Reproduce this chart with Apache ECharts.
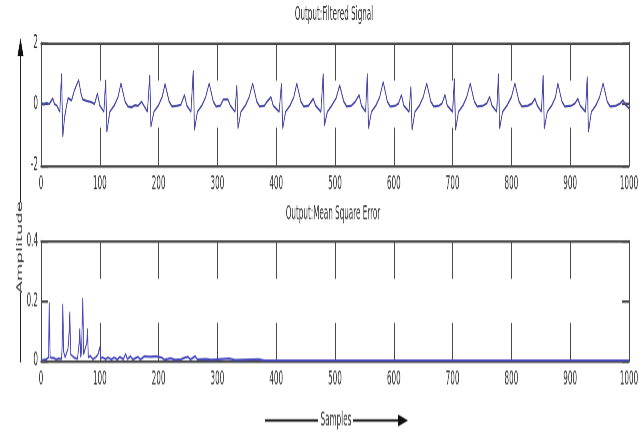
<!DOCTYPE html>
<html>
<head>
<meta charset="utf-8">
<script src="https://cdn.jsdelivr.net/npm/echarts@6/dist/echarts.min.js"></script>
<style>
    html {overflow: hidden; background: #fff;}
    body {margin: 0; padding: 0; background: #fff; height: 433px;}
    /* the reference picture is stretched vertically, so the chart is drawn at 1/2.5 height and scaled back */
    #main {width: 644px; height: 173.2px; transform: scaleY(2.5); transform-origin: 0 0;}
</style>
</head>
<body>
<div id="main"></div>
<script>
// tick labels
const sampleTicks = [0, 100, 200, 300, 400, 500, 600, 700, 800, 900, 1000];
const signalTicks = [-2, 0, 2];
const errorTicks = [0, 0.2, 0.4];

// Output: filtered signal, [sample, amplitude] vertices
const filteredSignal = [
    [0, 0.02], [5, -0.02], [9, 0.04], [12, 0.17], [14, 0.0], [17, 0.05], [20, 0.19], [23, 0.0], [27, -0.05], [32, -0.25],
    [35, 1.0], [37, -1.07], [40, -0.45], [43, -0.1], [46, 0.2], [49, 0.23], [52, 0.12], [57, 0.46], [60, 0.4], [64, 0.79],
    [68, 0.35], [71, 0.15], [74, 0.08], [78, 0.1], [81, -0.02], [86, 0.06], [91, 0.0], [96, 0.35], [100, -0.05], [103, -0.1], [107, -0.25],
    [110, 0.79], [112, -0.91], [117, -0.25], [125, -0.03], [131, 0.23], [136, 0.68], [143, 0.08], [148, -0.08], [154, -0.1], [160, -0.04],
    [165, -0.06], [171, 0.08], [174, -0.05], [181, -0.25],
    [185, 0.95], [187, -0.74], [192, -0.25], [200, -0.03], [206, 0.23], [211, 0.66], [218, 0.08], [223, -0.08], [232, -0.05], [238, -0.02],
    [244, 0.3], [248, -0.05], [255, -0.25],
    [259, 1.11], [261, -0.85], [266, -0.25], [274, -0.03], [280, 0.23], [286, 0.68], [293, 0.08], [298, -0.08], [305, -0.05], [310, 0.15],
    [313, 0.0], [318, 0.15], [322, -0.05], [330, -0.25],
    [333, 0.62], [335, -0.8], [340, -0.25], [348, -0.03], [354, 0.23], [360, 0.68], [367, 0.08], [372, -0.08], [380, -0.05], [384, 0.07],
    [387, 0.0], [391, 0.23], [395, -0.05], [405, -0.25],
    [409, 0.68], [411, -0.8], [416, -0.25], [424, -0.03], [430, 0.23], [435, 0.68], [442, 0.08], [447, -0.08], [455, -0.05], [463, 0.18],
    [467, -0.05], [476, -0.25],
    [480, 1.0], [482, -0.7], [487, -0.25], [495, -0.03], [502, 0.2], [508, 0.62], [515, 0.08], [520, -0.08], [528, -0.05], [534, 0.07],
    [537, 0.0], [541, 0.3], [545, -0.05], [552, -0.25],
    [555, 1.0], [557, -0.8], [562, -0.25], [570, -0.03], [576, 0.23], [582, 0.73], [589, 0.08], [594, -0.08], [603, -0.05], [608, 0.02],
    [613, 0.3], [617, -0.05], [626, -0.25],
    [629, 0.57], [631, -0.85], [636, -0.25], [644, -0.03], [650, 0.23], [656, 0.68], [663, 0.08], [668, -0.08], [677, -0.05], [682, 0.02],
    [687, 0.3], [691, -0.05], [700, -0.25],
    [703, 0.84], [705, -0.85], [710, -0.25], [718, -0.03], [724, 0.23], [730, 0.68], [737, 0.08], [742, -0.08], [752, -0.05], [758, 0.02],
    [763, 0.24], [767, -0.05], [775, -0.25],
    [778, 1.0], [780, -0.8], [785, -0.25], [793, -0.03], [800, 0.23], [806, 0.68], [813, 0.08], [818, -0.08], [828, -0.05], [835, 0.02],
    [840, 0.18], [844, -0.05], [851, -0.25],
    [854, 0.95], [856, -0.8], [861, -0.25], [869, -0.03], [875, 0.23], [879, 0.68], [886, 0.08], [891, -0.08], [902, -0.05], [908, 0.02],
    [913, 0.18], [917, -0.05], [926, -0.25],
    [929, 0.9], [931, -0.91], [936, -0.25], [944, -0.03], [950, 0.23], [956, 0.68], [963, 0.08], [968, -0.08], [978, -0.05], [985, 0.02],
    [990, 0.13], [994, -0.02], [1000, -0.14]
];

// Output: mean square error, [sample, mse]
const meanSquareError = [
    [0, 0], [9, 0.004], [13, 0.01], [14, 0.196], [15.5, 0.01], [18, 0.003], [22, 0.008], [26, 0.003], [30, 0.006], [35, 0.005],
    [36, 0.05], [37, 0.19], [38.5, 0.03], [41, 0.01], [44, 0.006], [46, 0.04], [48, 0.1], [49, 0.163], [50.5, 0.02], [53, 0.006],
    [56, 0.01], [59, 0.02], [62, 0.005], [65, 0.06], [66, 0.107], [67.5, 0.01], [69, 0.03], [71, 0.21], [72.5, 0.02], [75, 0.01],
    [78, 0.06], [79, 0.107], [80.5, 0.01], [84, 0.015], [88, 0.004], [93, 0.01], [97, 0.02], [100, 0.045], [101.5, 0.008],
    [105, 0.01], [108, 0.022], [110, 0.004], [114, 0.01], [117, 0.018], [120, 0.003], [124, 0.01], [127, 0.022], [130, 0.003],
    [134, 0.012], [137, 0.02], [140, 0.004], [144, 0.022], [147, 0.004], [152, 0.014], [156, 0.003], [161, 0.008], [165, 0.012],
    [169, 0.003], [176, 0.014], [179, 0.003], [186, 0.012], [189, 0.003], [195, 0.014], [198, 0.003], [205, 0.01], [210, 0.002],
    [220, 0.007], [228, 0.002], [238, 0.004], [245, 0.01], [250, 0.012], [254, 0.003], [262, 0.014], [266, 0.003], [280, 0.005],
    [290, 0.002], [320, 0.006], [330, 0.001], [370, 0.004], [380, 0], [1000, 0]
];

const FONT = "'DejaVu Sans Condensed', 'Liberation Sans', sans-serif";
const TEXT_COLOR = "#333";
const FRAME = {color: "#4a4a4a", width: 1};

// one panel: bottom axis with labels + top mirror axis, left axis with labels + right mirror axis
function xAxes(grid) {
    const base = {
        type: "value", gridIndex: grid, min: 0, max: 1000, interval: 100,
        axisLine: {show: true, onZero: false, lineStyle: FRAME},
        axisTick: {show: true, inside: true, length: 15, lineStyle: FRAME},
        splitLine: {show: false}
    };
    return [
        Object.assign({}, base, {
            position: "bottom",
            axisLabel: {
                color: TEXT_COLOR, fontFamily: FONT, fontSize: 8, margin: 3.5,
                formatter: v => sampleTicks.includes(v) ? String(v) : ""
            }
        }),
        Object.assign({}, base, {position: "top", axisLabel: {show: false}})
    ];
}

function yAxes(grid, ticks) {
    const base = {
        type: "value", gridIndex: grid, min: ticks[0], max: ticks[ticks.length - 1],
        interval: ticks[1] - ticks[0],
        axisLine: {show: true, onZero: false, lineStyle: FRAME},
        axisTick: {show: true, inside: true, length: 7, lineStyle: FRAME},
        splitLine: {show: false}
    };
    return [
        Object.assign({}, base, {
            position: "left",
            axisLabel: {color: TEXT_COLOR, fontFamily: FONT, fontSize: 8, margin: 3}
        }),
        Object.assign({}, base, {position: "right", axisLabel: {show: false}})
    ];
}

const chart = echarts.init(document.getElementById("main"), null, {renderer: "canvas", devicePixelRatio: 2.5});

const option = {
    animation: false,
    backgroundColor: "#fff",
    title: [
        {
            text: "Output:Filtered Signal", left: 334, top: 2.1, textAlign: "center", padding: 0,
            textStyle: {color: TEXT_COLOR, fontFamily: FONT, fontSize: 8, fontWeight: "normal"}
        },
        {
            text: "Output:Mean Square Error", left: 333, top: 81.7, textAlign: "center", padding: 0,
            textStyle: {color: TEXT_COLOR, fontFamily: FONT, fontSize: 8, fontWeight: "normal"}
        }
    ],
    grid: [
        {left: 41, right: 15, top: 17.2, height: 48.8},
        {left: 41, right: 15, top: 96.4, height: 47.6}
    ],
    xAxis: xAxes(0).concat(xAxes(1)),
    yAxis: yAxes(0, signalTicks).concat(yAxes(1, errorTicks)),
    series: [
        {
            type: "line", xAxisIndex: 0, yAxisIndex: 0, data: filteredSignal,
            showSymbol: false, lineStyle: {color: "#4747a6", width: 0.9}
        },
        {
            type: "line", xAxisIndex: 2, yAxisIndex: 2, data: meanSquareError,
            showSymbol: false, lineStyle: {color: "#4848bf", width: 0.9}
        }
    ],
    // amplitude arrow on the left, samples arrow at the bottom
    graphic: [
        {type: "line", shape: {x1: 20.5, y1: 22, x2: 20.5, y2: 81}, style: {stroke: "#222", lineWidth: 1}},
        {type: "polygon", shape: {points: [[20.5, 15.2], [17.5, 22.4], [23.5, 22.4]]}, style: {fill: "#111"}},
        {
            type: "text", x: 20, y: 98.8, rotation: Math.PI / 2,
            style: {
                text: "Amplitude", fill: TEXT_COLOR, font: "8px " + FONT,
                textAlign: "center", textVerticalAlign: "middle"
            }
        },
        {type: "line", shape: {x1: 20.5, y1: 116.8, x2: 20.5, y2: 144.8}, style: {stroke: "#222", lineWidth: 1}},
        {
            type: "text", x: 336, y: 168,
            style: {
                text: "Samples", fill: TEXT_COLOR, font: "8px " + FONT,
                textAlign: "center", textVerticalAlign: "middle"
            }
        },
        {type: "line", shape: {x1: 265, y1: 168, x2: 318, y2: 168}, style: {stroke: "#222", lineWidth: 1}},
        {type: "line", shape: {x1: 353, y1: 168, x2: 400, y2: 168}, style: {stroke: "#222", lineWidth: 1}},
        {type: "polygon", shape: {points: [[408, 168], [398, 165.6], [398, 170.4]]}, style: {fill: "#111"}}
    ]
};

chart.setOption(option);
</script>
</body>
</html>
